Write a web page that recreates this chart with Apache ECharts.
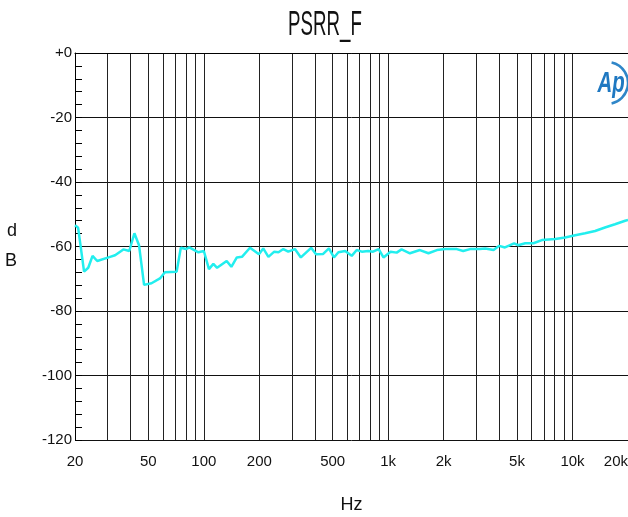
<!DOCTYPE html>
<html>
<head>
<meta charset="utf-8">
<script src="https://cdn.jsdelivr.net/npm/echarts@6/dist/echarts.min.js"></script>
<style>
html,body{margin:0;padding:0;background:#fff;}
#chart{width:628px;height:517px;}
</style>
</head>
<body>
<div id="chart"></div>
<script>
// ---- data ----
var freqHz = [20, 20.8, 22.4, 23.6, 24.9, 26.4, 31, 33, 36.6, 39.4, 42, 44.5, 47.4, 52, 57.8, 61.5, 71.2, 75, 80, 83.4,
  93.4, 100, 106.6, 112.6, 118, 133, 141, 151, 161, 178, 199, 210, 224, 241, 254, 270, 287, 312, 336, 382,
  406, 444, 477, 508, 537, 584, 634, 675, 719, 780, 828, 888, 943, 1030, 1112, 1182, 1312, 1486, 1654, 1838,
  2038, 2356, 2552, 2780, 3140, 3360, 3730, 4000, 4300, 4820, 5070, 5540, 6140, 6820, 8060, 9120, 10340, 11700,
  13260, 15000, 17000, 19300, 20000];
var psrrDb = [-53.4, -54.2, -67.8, -66.6, -62.9, -64.5, -63.2, -62.7, -60.9, -61.4, -55.9, -59.6, -71.9, -71.4, -69.9, -68.0, -67.8, -60.4, -60.8, -60.3,
  -61.8, -61.4, -67.0, -65.4, -66.6, -64.5, -66.3, -63.4, -63.2, -60.4, -62.4, -60.6, -63.2, -61.6, -61.8, -60.8, -61.6, -60.8, -63.4, -60.4,
  -62.4, -62.3, -60.6, -63.4, -61.8, -61.4, -62.9, -61.1, -61.6, -61.4, -61.6, -60.8, -63.4, -61.6, -61.9, -60.9, -62.1, -61.1, -62.1, -61.1,
  -60.8, -60.8, -61.4, -60.8, -60.8, -60.6, -61.1, -59.8, -60.3, -59.0, -59.6, -59.0, -59.0, -58.0, -57.7, -57.2, -56.5, -55.9,
  -55.2, -54.1, -53.1, -52.0, -51.8];
var xGridValues = [20, 30, 40, 50, 60, 70, 80, 90, 100, 200, 300, 400, 500, 600, 700, 800, 900,
  1000, 2000, 3000, 4000, 5000, 6000, 7000, 8000, 9000, 10000, 20000];
var xLabelValues = [20, 50, 100, 200, 500, 1000, 2000, 5000, 10000, 20000];
var yMin = -120, yMax = 0, yStep = 20;
var titleText = 'PSRR_F';
var xName = 'Hz';
var yName = 'd\nB';

var seriesData = freqHz.map(function (f, i) { return [f, psrrDb[i]]; });

var FONT = "'Liberation Sans Narrow', 'Arial Narrow', 'Liberation Sans', sans-serif";
var chart = echarts.init(document.getElementById('chart'), null, {renderer: 'canvas'});
chart.setOption({
  animation: false,
  backgroundColor: '#ffffff',
  grid: {left: 75, top: 53, right: 0, bottom: 77, containLabel: false, outerBoundsMode: 'none'},
  graphic: [
    {type: 'text', x: 325, y: 25, scaleX: 0.85, scaleY: 1.6, style: {text: titleText, font: '22px ' + FONT, fill: '#111', textAlign: 'center', textVerticalAlign: 'middle'}},
    {type: 'arc', shape: {cx: 607, cy: 83, r: 21, startAngle: -1.35, endAngle: 1.35, clockwise: true}, style: {stroke: '#2f86c8', lineWidth: 2.5, fill: null}},
    {type: 'text', x: 611, y: 84, scaleX: 0.85, scaleY: 1.25, style: {text: 'Ap', font: 'italic bold 24px ' + FONT, fill: '#1f78c1', textAlign: 'center', textVerticalAlign: 'middle'}}
  ],
  xAxis: {
    type: 'log', logBase: 10, min: 20, max: 20000,
    name: xName, nameLocation: 'middle', nameGap: 56,
    nameTextStyle: {fontFamily: FONT, fontSize: 18, color: '#111'},
    axisLine: {show: true, lineStyle: {color: '#000', width: 1}},
    axisTick: {show: false, customValues: xGridValues},
    axisLabel: {customValues: xLabelValues, margin: 14, fontFamily: FONT, fontSize: 15, color: '#111', alignMaxLabel: 'right',
      formatter: function (v) { return v >= 1000 ? (v / 1000) + 'k' : String(v); }},
    splitLine: {show: true, lineStyle: {color: '#222', width: 1}},
    minorSplitLine: {show: false}
  },
  yAxis: {
    type: 'value', min: yMin, max: yMax, interval: yStep,
    name: yName, nameLocation: 'middle', nameGap: 58, nameRotate: 0,
    nameTextStyle: {fontFamily: FONT, fontSize: 18, color: '#111', lineHeight: 30},
    axisLine: {show: true, lineStyle: {color: '#000', width: 1}},
    axisTick: {show: true, inside: true, length: 7, lineStyle: {color: '#000'}},
    minorTick: {show: true, splitNumber: 5, length: 7, lineStyle: {color: '#000'}},
    axisLabel: {margin: 3, fontFamily: FONT, fontSize: 15, color: '#111',
      formatter: function (v) { return v === 0 ? '+0' : String(v); }},
    splitLine: {show: true, lineStyle: {color: '#111', width: 1}}
  },
  series: [{
    type: 'line', data: seriesData, showSymbol: false, symbol: 'none',
    lineStyle: {color: '#22eeee', width: 2.5}, clip: true
  }]
});
</script>
</body>
</html>
